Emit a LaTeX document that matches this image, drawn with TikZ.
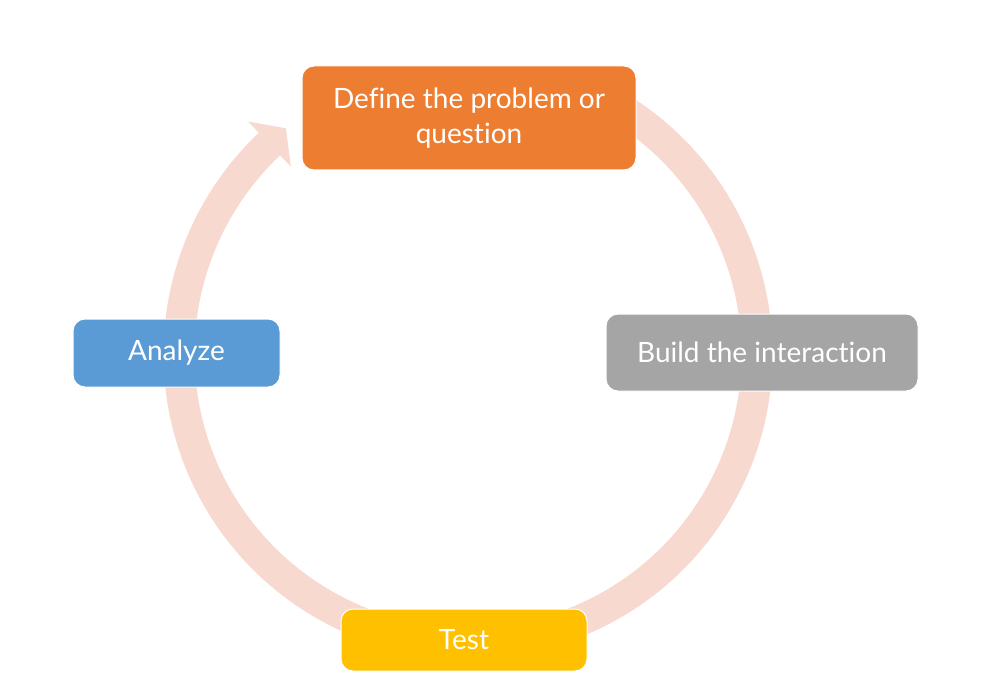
\documentclass[tikz,border=0pt]{standalone}
\usepackage{fontspec}
\setmainfont{Lato}[Ligatures=NoCommon]
\definecolor{ringc}{RGB}{247,217,207}
\definecolor{orangec}{HTML}{ED7D31}
\definecolor{bluec}{HTML}{5B9BD5}
\definecolor{grayc}{HTML}{A5A5A5}
\definecolor{goldc}{HTML}{FFC000}
\begin{document}
\begin{tikzpicture}[x=1pt,y=1pt,
  box/.style={draw=white, line width=1pt, rounded corners=12pt, text=white,
    align=center, inner sep=0pt, font=\fontsize{28}{35}\selectfont},
  ring/.style={draw=ringc, line width=31pt}]
\fill[white] (0,0) rectangle (988,-679);
\useasboundingbox (0,0) rectangle (988,-679);
\coordinate (c) at (468,-354);
% circular arrow
\draw[ring] ([shift={(62:289)}]c) arc[start angle=62, end angle=-226.6, radius=289];
\fill[ringc] ([shift={(133.4:320)}]c) -- ([shift={(128.9:290)}]c) -- ([shift={(133.4:258)}]c) -- cycle;
% boxes
\node[box, fill=orangec, minimum width=334, minimum height=104] (define) at (469,-118) {Define the problem or\\question};
\node[box, fill=grayc, minimum width=312, minimum height=77] (build) at (762,-352.5) {Build the interaction};
\node[box, fill=goldc, minimum width=246, minimum height=62] (test) at (464,-640) {Test};
\node[box, fill=bluec, minimum width=207, minimum height=68] (analyze) at (176.5,-353) {Analyze};
\end{tikzpicture}
\end{document}
